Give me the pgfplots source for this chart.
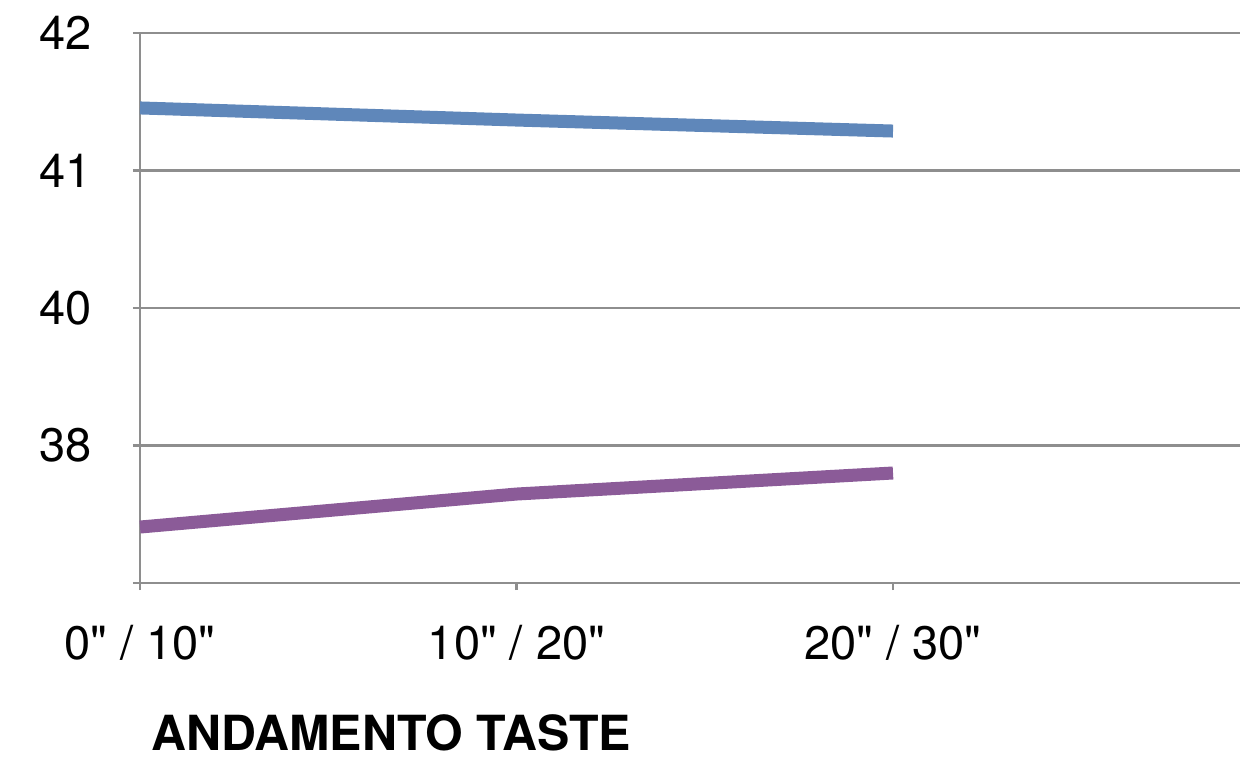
\documentclass[border=0pt]{standalone}
\usepackage{pgfplots}
\pgfplotsset{compat=1.18}
\usepackage{fontspec}
% straight ASCII inch marks in the labels, so no TeX quote mapping
\setmainfont{TeX Gyre Heros}[Ligatures=TeXOff]
\definecolor{gridgray}{HTML}{8E8E8E}
\definecolor{serieblu}{HTML}{5F87BA}
\definecolor{serieviola}{HTML}{8B5B98}
\begin{document}
\begin{tikzpicture}
\path[use as bounding box] (-70bp,-90bp) rectangle (550.5bp,291.5bp);
\begin{axis}[
  at={(0,0)}, anchor=south west,
  scale only axis,
  width=550bp, height=275bp,
  xmin=0, xmax=2.9216,
  ymin=38, ymax=42,
  xtick={0,1,2},
  xticklabels={0" / 10", 10" / 20", 20" / 30"},
  ytick={38,39,40,41,42},
  yticklabels={{},38,40,41,42},
  axis x line=bottom, axis y line=left,
  axis line style={draw=gridgray, line width=1.4bp, -},
  ymajorgrids,
  major grid style={draw=gridgray, line width=1.4bp},
  tick align=outside,
  major tick length=3.5bp,
  tick style={draw=gridgray, line width=1.4bp},
  /pgf/number format/assume math mode=true,
  tick label style={font=\fontsize{23.5bp}{28bp}\selectfont, inner sep=0pt},
  yticklabel style={anchor=east, xshift=-20.5bp},
  xticklabel style={anchor=north, yshift=-17.5bp},
  clip=false,
]
\addplot[serieblu, line width=6.5bp, line cap=butt] coordinates {
  (0,41.455) (1,41.367) (2,41.287)
};
\addplot[serieviola, line width=6.5bp, line cap=butt] coordinates {
  (0,38.407) (1,38.647) (2,38.800)
};
\end{axis}
\node[anchor=base west, inner sep=0pt, font=\bfseries\fontsize{24.2bp}{29bp}\selectfont]
  at (5.5bp,-83.5bp) {ANDAMENTO TASTE};
\end{tikzpicture}
\end{document}
